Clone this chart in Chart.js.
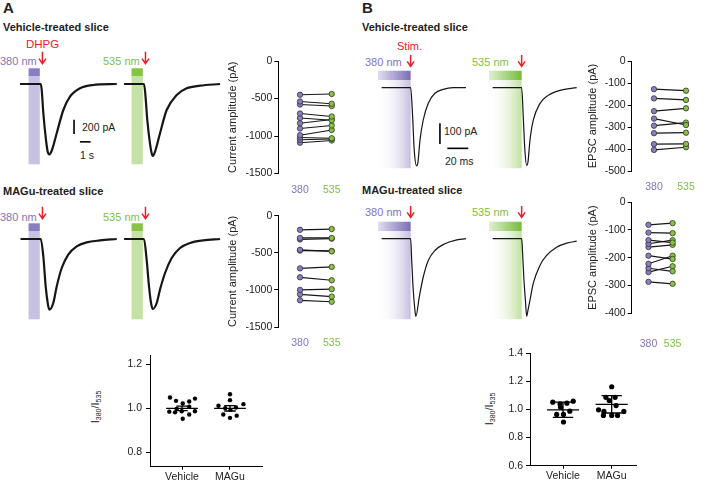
<!DOCTYPE html>
<html>
<head>
<meta charset="utf-8">
<script src="https://cdn.jsdelivr.net/npm/chart.js@4.4.1/dist/chart.umd.min.js"></script>
<style>
  body { margin: 0; background: #fff; }
  #fig { position: relative; width: 708px; height: 481px; overflow: hidden; font-family: "Liberation Sans", Arial, sans-serif; color: #222; }
  #fig canvas { position: absolute; }
  .t { position: absolute; white-space: nowrap; line-height: 1; font-size: 11px; }
  .b { font-weight: bold; }
  .red { color: #e8202a; }
  .pu { color: #8474bb; }
  .gr { color: #7dbf43; }
  .rot { position: absolute; white-space: nowrap; line-height: 1; font-size: 11px; transform: translate(-50%, -50%) rotate(-90deg); }
  .rot sub { font-size: 7px; vertical-align: -2px; }
</style>
</head>
<body>
<div id="fig">
  <div class="t b" style="left:3px;top:0px;font-size:15px;">A</div>
  <div class="t b" style="left:3px;top:22px;">Vehicle-treated slice</div>
  <div class="t red" style="left:26px;top:39px;font-size:11.5px;">DHPG</div>
  <div class="t pu" style="left:0px;top:56px;">380 nm</div>
  <div class="t gr" style="left:103px;top:56px;">535 nm</div>
  <div class="t" style="left:82px;top:122px;font-size:10.5px;">200 pA</div>
  <div class="t" style="left:80px;top:150px;font-size:10.5px;">1 s</div>
  <div class="t b" style="left:3px;top:186px;">MAGu-treated slice</div>
  <div class="t pu" style="left:0px;top:212px;">380 nm</div>
  <div class="t gr" style="left:103px;top:212px;">535 nm</div>

  <div class="t b" style="left:362px;top:0px;font-size:15px;">B</div>
  <div class="t b" style="left:362px;top:22px;">Vehicle-treated slice</div>
  <div class="t red" style="left:397px;top:41px;">Stim.</div>
  <div class="t pu" style="left:365px;top:57px;">380 nm</div>
  <div class="t gr" style="left:472px;top:57px;">535 nm</div>
  <div class="t" style="left:444px;top:126px;font-size:10.5px;">100 pA</div>
  <div class="t" style="left:445px;top:156px;font-size:10.5px;">20 ms</div>
  <div class="t b" style="left:362px;top:185px;">MAGu-treated slice</div>
  <div class="t pu" style="left:365px;top:207px;">380 nm</div>
  <div class="t gr" style="left:472px;top:207px;">535 nm</div>

  <div class="rot" style="left:96px;top:407px;">I<sub>380</sub>/I<sub>535</sub></div>
  <div class="rot" style="left:490px;top:409px;">I<sub>380</sub>/I<sub>535</sub></div>

  <canvas id="aVeh380" width="110" height="130" style="left:20px;top:42px;"></canvas>
  <canvas id="aVeh535" width="110" height="130" style="left:123px;top:42px;"></canvas>
  <canvas id="aMag380" width="110" height="130" style="left:20px;top:197px;"></canvas>
  <canvas id="aMag535" width="110" height="130" style="left:123px;top:197px;"></canvas>
  <canvas id="bVeh380" width="95" height="130" style="left:378px;top:42px;"></canvas>
  <canvas id="bVeh535" width="95" height="130" style="left:489px;top:42px;"></canvas>
  <canvas id="bMag380" width="95" height="130" style="left:378px;top:193px;"></canvas>
  <canvas id="bMag535" width="95" height="130" style="left:489px;top:193px;"></canvas>

  <canvas id="aVehPair" width="130" height="150" style="left:226px;top:48px;"></canvas>
  <canvas id="aMagPair" width="130" height="150" style="left:226px;top:203px;"></canvas>
  <canvas id="bVehPair" width="122" height="150" style="left:586px;top:48px;"></canvas>
  <canvas id="bMagPair" width="122" height="160" style="left:586px;top:193px;"></canvas>

  <canvas id="aRatio" width="185" height="136" style="left:85px;top:345px;"></canvas>
  <canvas id="bRatio" width="175" height="141" style="left:475px;top:340px;"></canvas>
</div>

<script>
// traces: [time, current] (A in s, B in ms; pA)
const traceAVeh380 = [[-2, 0], [-0.06, 0], [0.03, -84], [0.18, -406], [0.43, -784], [0.59, -948], [0.74, -984], [0.99, -924], [1.43, -690], [2.05, -364], [2.67, -178], [3.61, -60], [4.82, -14], [7.04, 0]];
const traceAVeh535 = [[-1.9, 0], [-0.04, 0], [0.08, -130], [0.27, -504], [0.52, -830], [0.68, -970], [0.78, -1008], [0.99, -950], [1.46, -690], [2.08, -364], [3.02, -154], [3.95, -60], [5.2, -24], [7.07, 0]];
const traceAMag380 = [[-1.95, 0], [-0.06, 0], [0.18, -244], [0.4, -664], [0.59, -896], [0.74, -990], [1.11, -896], [1.43, -664], [1.9, -406], [2.51, -220], [3.3, -104], [4.23, -48], [5.48, -20], [7.04, 0]];
const traceAMag535 = [[-1.9, 0], [-0.04, 0], [0.21, -290], [0.43, -664], [0.62, -896], [0.78, -980], [1.15, -896], [1.46, -708], [1.93, -476], [2.55, -266], [3.33, -126], [4.26, -56], [5.5, -20], [7.07, 0]];
const traceBVeh380 = [[-27.6, 0], [0, 0], [1.9, -140], [3.4, -301], [5.7, -378], [7, -358], [8.9, -253], [12, -156], [16.8, -75], [23.1, -27], [31, -8], [40.6, 0], [52.7, 0]];
const traceBVeh535 = [[-27.6, 0], [0, 0], [1.7, -158], [3.1, -303], [4.8, -375], [6, -360], [7.9, -255], [11, -158], [17.4, -77], [25.3, -37], [36.5, -13], [52.4, 0]];
const traceBMag380 = [[-27.6, 0], [0, 0], [1, -105], [2.5, -250], [4.1, -347], [5, -375], [8.2, -282], [12, -185], [16.8, -105], [23.1, -57], [32.7, -24], [42.2, -8], [52.7, 0]];
const traceBMag535 = [[-27.6, 0], [0, 0], [0.6, -41], [2.2, -201], [3.6, -298], [4.8, -375], [6, -346], [7.9, -298], [11, -217], [17.4, -129], [23.8, -81], [33.3, -41], [42.9, -21], [52.4, -12]];

// scale bars
const scaleA = { amp: [3.05, -500, -700], time: [3.6, 4.6, -810] };
const scaleB = { amp: [27.9, -172, -272], time: [34.9, 54.9, -293] };

// peak amplitudes (pA), paired 380 nm -> 535 nm
const pairLabels = ['380', '535'];
const aVeh380 = [-450, -540, -580, -700, -760, -830, -900, -990, -1020, -1050, -1090];
const aVeh535 = [-440, -570, -600, -740, -790, -780, -860, -920, -1030, -1040, -1060];
const aMag380 = [-190, -300, -320, -460, -470, -710, -830, -1000, -1060, -1140];
const aMag535 = [-180, -300, -310, -480, -475, -690, -870, -990, -1090, -1160];
const bVeh380 = [-128, -170, -228, -262, -294, -328, -378, -404];
const bVeh535 = [-135, -177, -215, -291, -280, -326, -377, -392];
const bMag380 = [-82, -110, -137, -150, -162, -193, -222, -238, -252, -287];
const bMag535 = [-76, -112, -146, -137, -154, -205, -193, -249, -231, -294];

// I380/I535 ratios (x = jitter offset within the group)
const groupLabels = ['Vehicle', 'MAGu'];
const aVehX = [-0.25, -0.125, 0.015, 0.15, 0.27, -0.265, -0.146, -0.006, 0.15, 0.27, 0.015, 0.15, -0.11];
const aVehY = [1.049, 1.034, 1.022, 1.031, 1.044, 0.985, 0.982, 0.987, 1.007, 0.987, 0.953, 0.972, 0.997];
const aMagX = [0, 0, -0.24, -0.1, 0.01, 0.28, -0.14, 0, 0.14, 0.125];
const aMagY = [1.064, 1.037, 1.012, 1.001, 0.993, 1.019, 0.972, 0.957, 0.967, 1.004];
const aMean = [1.0, 1.0];
const aErr = [0.01, 0.012];
const bVehX = [-0.21, -0.06, 0.08, 0.21, -0.05, 0.14, -0.13, 0.01, 0.01];
const bVehY = [1.052, 1.04, 1.045, 1.059, 1.016, 0.988, 0.965, 0.965, 0.911];
const bMagX = [0, -0.12, 0.07, -0.05, 0.09, -0.27, -0.16, 0.25, -0.17, 0, 0.12];
const bMagY = [1.162, 1.087, 1.087, 1.064, 1.028, 0.998, 0.986, 0.986, 0.958, 0.958, 0.958];
const bMean = [0.998, 1.037];
const bErr = [0.054, 0.062];

const PURPLE = '#8a7ec2';
const PURPLE_LIGHT = '#c9c1e3';
const GREEN = '#86c341';
const GREEN_LIGHT = '#c4e2a5';
const RED = '#e8202a';
const INK = '#161616';

Chart.defaults.font.family = '"Liberation Sans", Arial, sans-serif';
Chart.defaults.font.size = 10;
Chart.defaults.color = '#222';
Chart.defaults.animation = false;
Chart.defaults.plugins.legend.display = false;
Chart.defaults.plugins.tooltip.enabled = false;

// light stimulus bar + red arrow, in the trace's own units
const stimPlugin = {
  id: 'stim',
  beforeDatasetsDraw(chart, args, o) {
    const { ctx, scales: { x, y } } = chart;
    const x0 = x.getPixelForValue(o.on[0]);
    const x1 = x.getPixelForValue(o.on[1]);
    const yA = y.getPixelForValue(o.band[0]);
    const yB = y.getPixelForValue(o.band[1]);
    const yC = y.getPixelForValue(o.band[2]);
    let dark = o.dark;
    let light = o.light;
    if (o.fade) {
      dark = ctx.createLinearGradient(x0, 0, x1, 0);
      dark.addColorStop(0, o.fade);
      dark.addColorStop(1, o.dark);
      light = ctx.createLinearGradient(x0, 0, x1, 0);
      light.addColorStop(0, 'rgba(255,255,255,0)');
      light.addColorStop(1, o.light);
    }
    ctx.save();
    ctx.fillStyle = dark;
    ctx.fillRect(x0, yA, x1 - x0, yB - yA);
    ctx.fillStyle = light;
    ctx.fillRect(x0, yB, x1 - x0, yC - yB);
    ctx.restore();
  },
  afterDatasetsDraw(chart, args, o) {
    const { ctx, scales: { x, y } } = chart;
    const ax = x.getPixelForValue(o.arrow[0]);
    const top = y.getPixelForValue(o.arrow[1]);
    const tip = y.getPixelForValue(o.arrow[2]);
    ctx.save();
    ctx.strokeStyle = RED;
    ctx.lineWidth = 1.5;
    ctx.beginPath();
    ctx.moveTo(ax, top);
    ctx.lineTo(ax, tip);
    ctx.moveTo(ax - 3.5, tip - 5);
    ctx.lineTo(ax, tip);
    ctx.lineTo(ax + 3.5, tip - 5);
    ctx.stroke();
    ctx.restore();
  },
};

// mean line with error bars for the ratio plots
const summaryPlugin = {
  id: 'summary',
  afterDatasetsDraw(chart, args, o) {
    const { ctx, scales: { x, y } } = chart;
    ctx.save();
    ctx.strokeStyle = '#000';
    ctx.lineWidth = 1.3;
    o.means.forEach((m, i) => {
      const e = o.errs[i];
      const yM = y.getPixelForValue(m);
      const yHi = y.getPixelForValue(m + e);
      const yLo = y.getPixelForValue(m - e);
      const xc = x.getPixelForValue(i);
      const xl = x.getPixelForValue(i - o.half);
      const xr = x.getPixelForValue(i + o.half);
      const cl = x.getPixelForValue(i - o.cap);
      const cr = x.getPixelForValue(i + o.cap);
      ctx.beginPath();
      ctx.moveTo(xl, yM);
      ctx.lineTo(xr, yM);
      ctx.moveTo(xc, yHi);
      ctx.lineTo(xc, yLo);
      ctx.moveTo(cl, yHi);
      ctx.lineTo(cr, yHi);
      ctx.moveTo(cl, yLo);
      ctx.lineTo(cr, yLo);
      ctx.stroke();
    });
    ctx.restore();
  },
};

const toXY = (pts) => pts.map(([t, v]) => ({ x: t, y: v }));

function traceChart(id, trace, xr, yr, stim, bars, width) {
  const datasets = [
    {
      data: toXY(trace),
      borderColor: INK,
      borderWidth: width,
      pointRadius: 0,
      cubicInterpolationMode: 'monotone',
    },
  ];
  if (bars) {
    datasets.push({
      data: [{ x: bars.amp[0], y: bars.amp[1] }, { x: bars.amp[0], y: bars.amp[2] }],
      borderColor: '#000', borderWidth: 1.6, pointRadius: 0,
    });
    datasets.push({
      data: [{ x: bars.time[0], y: bars.time[2] }, { x: bars.time[1], y: bars.time[2] }],
      borderColor: '#000', borderWidth: 1.6, pointRadius: 0,
    });
  }
  new Chart(document.getElementById(id), {
    type: 'line',
    data: { datasets },
    options: {
      responsive: false,
      layout: { padding: 0 },
      plugins: { stim },
      scales: {
        x: { type: 'linear', display: false, min: xr[0], max: xr[1] },
        y: { display: false, min: yr[0], max: yr[1] },
      },
    },
    plugins: [stimPlugin],
  });
}

const xA = [-2, 8.28];
const yA = [-1232, 588];
const xB = [-31.1, 59.4];
const yB = [-407.2, 220.8];
const stimA = (dark, light) => ({ on: [-1.2, -0.15], band: [220, 112, -1124], dark, light, arrow: [0.1, 450, 285] });
const stimB = (dark, light, fade) => ({ on: [-31.1, 0], band: [82, 37, -389], dark, light, fade, arrow: [0, 158, 103] });

traceChart('aVeh380', traceAVeh380, xA, yA, stimA(PURPLE, PURPLE_LIGHT), scaleA, 2.2);
traceChart('aVeh535', traceAVeh535, xA, yA, stimA(GREEN, GREEN_LIGHT), null, 2.2);
traceChart('aMag380', traceAMag380, xA, yA, stimA(PURPLE, PURPLE_LIGHT), null, 2.2);
traceChart('aMag535', traceAMag535, xA, yA, stimA(GREEN, GREEN_LIGHT), null, 2.2);
traceChart('bVeh380', traceBVeh380, xB, yB, stimB('#7b6db6', '#c6bde0', '#e2ddf0'), scaleB, 1.2);
traceChart('bVeh535', traceBVeh535, xB, yB, stimB('#76bd3a', '#bfe0a0', '#e0f0d2'), null, 1.2);
traceChart('bMag380', traceBMag380, xB, yB, stimB('#7b6db6', '#c6bde0', '#e2ddf0'), null, 1.2);
traceChart('bMag535', traceBMag535, xB, yB, stimB('#76bd3a', '#bfe0a0', '#e0f0d2'), null, 1.2);

function pairedChart(id, v380, v535, box) {
  const datasets = v380.map((a, i) => ({
    data: [{ x: 0, y: a }, { x: 1, y: v535[i] }],
    borderColor: INK,
    borderWidth: 1.2,
    pointRadius: 2.7,
    pointBorderWidth: 0.8,
    pointBorderColor: '#333',
    pointBackgroundColor: [PURPLE, GREEN],
  }));
  new Chart(document.getElementById(id), {
    type: 'line',
    data: { datasets },
    options: {
      responsive: false,
      layout: { padding: { top: box.top, right: box.right, left: 0, bottom: 0 } },
      scales: {
        x: {
          type: 'linear',
          min: box.x[0],
          max: box.x[1],
          afterBuildTicks: (s) => { s.ticks = [{ value: 0 }, { value: 1 }]; },
          ticks: {
            callback: (v) => pairLabels[v],
            color: (c) => (c.index === 0 ? '#8474bb' : '#7dbf43'),
            padding: box.xpad,
            font: { size: 10.5 },
          },
          grid: { display: false, drawTicks: false },
          border: { display: false },
          afterFit: (s) => { s.height = box.xh; },
        },
        y: {
          min: box.y[0],
          max: box.y[1],
          afterBuildTicks: (s) => { s.ticks = box.ticks.map((v) => ({ value: v })); },
          ticks: { callback: (v) => String(v), padding: 2, font: { size: 10.5 }, color: '#222' },
          grid: { drawOnChartArea: false, tickLength: 4, color: '#000' },
          border: { color: '#000' },
          title: { display: true, text: box.title, font: { size: 11 }, color: '#222', padding: 0 },
          afterFit: (s) => { s.width = box.yw; },
        },
      },
    },
  });
}

pairedChart('aVehPair', aVeh380, aVeh535, {
  top: 13, right: 6, xh: 24.5, xpad: 10, yw: 52.3,
  x: [-0.685, 1.577], y: [-1500, 0], ticks: [-1500, -1000, -500, 0],
  title: 'Current amplitude (pA)',
});
pairedChart('aMagPair', aMag380, aMag535, {
  top: 12.7, right: 6, xh: 26, xpad: 10, yw: 52.3,
  x: [-0.685, 1.577], y: [-1500, 0], ticks: [-1500, -1000, -500, 0],
  title: 'Current amplitude (pA)',
});
pairedChart('bVehPair', bVeh380, bVeh535, {
  top: 13, right: 8, xh: 27, xpad: 10, yw: 45.7,
  x: [-0.697, 1.4375], y: [-500, 0], ticks: [-500, -400, -300, -200, -100, 0],
  title: 'EPSC amplitude (pA)',
});
pairedChart('bMagPair', bMag380, bMag535, {
  top: 9, right: 8, xh: 39.7, xpad: 25, yw: 45.7,
  x: [-0.697, 1.4375], y: [-400, 0], ticks: [-400, -300, -200, -100, 0],
  title: 'EPSC amplitude (pA)',
});

function ratioChart(id, groups, means, errs, box) {
  const datasets = groups.map(([xs, ys], g) => ({
    type: 'scatter',
    data: xs.map((dx, i) => ({ x: g + dx, y: ys[i] })),
    pointRadius: box.r,
    pointBackgroundColor: '#000',
    pointBorderWidth: 0,
  }));
  new Chart(document.getElementById(id), {
    type: 'scatter',
    data: { datasets },
    options: {
      responsive: false,
      layout: { padding: { top: box.top, right: box.right, left: 0, bottom: 0 } },
      plugins: { summary: { means, errs, half: 0.33, cap: box.cap } },
      scales: {
        x: {
          type: 'linear',
          min: box.x[0],
          max: box.x[1],
          afterBuildTicks: (s) => { s.ticks = [{ value: 0 }, { value: 1 }]; },
          ticks: { callback: (v) => groupLabels[v], padding: 1, font: { size: 10.5 }, color: '#222' },
          grid: { drawOnChartArea: false, tickLength: 3, color: '#000' },
          border: { color: '#000' },
          afterFit: (s) => { s.height = box.xh; },
        },
        y: {
          min: box.y[0],
          max: box.y[1],
          afterBuildTicks: (s) => { s.ticks = box.ticks.map((v) => ({ value: v })); },
          ticks: { callback: (v) => v.toFixed(1), padding: box.ypad, font: { size: 10.5 }, color: '#222' },
          grid: { drawOnChartArea: false, tickLength: 4, color: '#000' },
          border: { color: '#000' },
          afterFit: (s) => { s.width = box.yw; },
        },
      },
    },
    plugins: [summaryPlugin],
  });
}

ratioChart('aRatio', [[aVehX, aVehY], [aMagX, aMagY]], aMean, aErr, {
  top: 8.7, right: 8, xh: 14.3, yw: 65, ypad: 4, r: 2.2, cap: 0.12,
  x: [-0.667, 1.667], y: [0.736, 1.24], ticks: [0.8, 1.0, 1.2],
});
ratioChart('bRatio', [[bVehX, bVehY], [bMagX, bMagY]], bMean, bErr, {
  top: 13.3, right: 14, xh: 15.3, yw: 55, ypad: 3, r: 2.6, cap: 0.21,
  x: [-0.678, 1.499], y: [0.6, 1.4], ticks: [0.6, 0.8, 1.0, 1.2, 1.4],
});
</script>
</body>
</html>
